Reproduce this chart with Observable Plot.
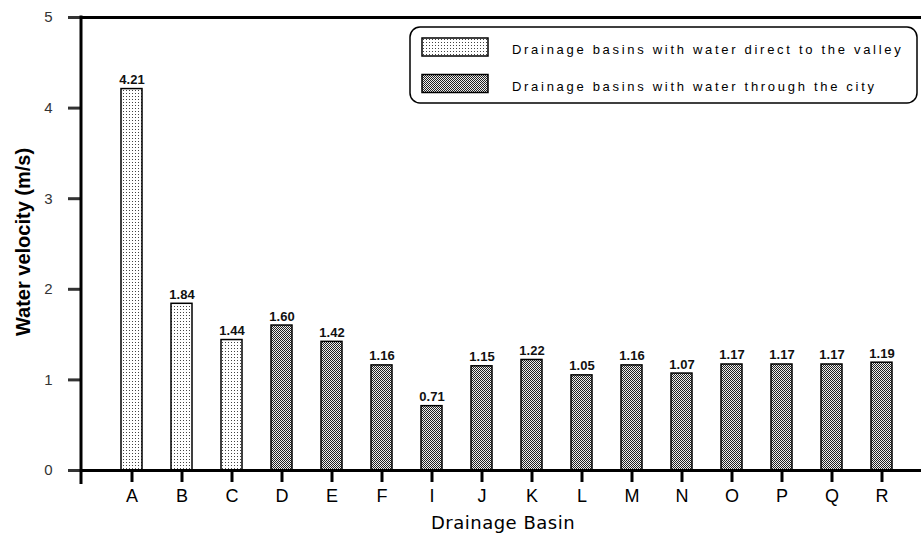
<!DOCTYPE html>
<html>
<head>
<meta charset="utf-8">
<script src="https://cdn.jsdelivr.net/npm/d3@7"></script>
<script src="https://cdn.jsdelivr.net/npm/@observablehq/plot@0.6"></script>
<style>
  html, body { margin: 0; padding: 0; background: #fff; }
  #chart { width: 921px; height: 533px; }
  svg { font-family: "Liberation Sans", Arial, sans-serif; }
</style>
</head>
<body>
<div id="chart"></div>
<script>
const categories = ["A","B","C","D","E","F","I","J","K","L","M","N","O","P","Q","R"];
const velocities = [4.21,1.84,1.44,1.60,1.42,1.16,0.71,1.15,1.22,1.05,1.16,1.07,1.17,1.17,1.17,1.19];
const groups = ["direct","direct","direct","city","city","city","city","city","city","city","city","city","city","city","city","city"];
const valueLabels = ["4.21","1.84","1.44","1.60","1.42","1.16","0.71","1.15","1.22","1.05","1.16","1.07","1.17","1.17","1.17","1.19"];
const yTicks = [0,1,2,3,4,5];
const legendLabels = ["Drainage basins with water direct to the valley", "Drainage basins with water through the city"];

const data = categories.map((c, i) => ({basin: c, v: velocities[i], group: groups[i], label: valueLabels[i]}));

const chart = Plot.plot({
  width: 921,
  height: 533,
  marginLeft: 81,
  marginRight: 0,
  marginTop: 17,
  marginBottom: 63,
  style: {fontFamily: "'Liberation Sans', Arial, sans-serif", background: "#fff", color: "#000"},
  x: {domain: categories, range: [81, 921], paddingInner: 0.58, paddingOuter: 0.668, align: 0.575},
  y: {domain: [0, 5]},
  marks: [
    Plot.barY(data, {filter: d => d.group === "direct", x: "basin", y: "v", fill: "url(#patLight)", stroke: "#000", strokeWidth: 1.5}),
    Plot.barY(data, {filter: d => d.group === "city", x: "basin", y: "v", fill: "url(#patDark)", stroke: "#000", strokeWidth: 1.5}),
    Plot.text(data, {x: "basin", y: "v", text: "label", lineAnchor: "bottom", dy: -5, fontSize: 13, fontWeight: "bold", fill: "#111", letterSpacing: "1.8px"}),
    Plot.ruleY([0, 5], {stroke: "#000", strokeWidth: 3}),
    Plot.axisY({ticks: yTicks, tickFormat: "d", tickSize: 13, tickPadding: 16, strokeWidth: 3, fontSize: 15, label: null, color: "#333"}),
    Plot.axisX({tickSize: 12, tickPadding: 7, strokeWidth: 3, fontSize: 18, label: null}),
  ]
});

document.getElementById("chart").appendChild(chart);

const svg = d3.select(chart);
const defs = svg.insert("defs", ":first-child");
const pl = defs.append("pattern").attr("id", "patLight").attr("patternUnits", "userSpaceOnUse").attr("width", 3).attr("height", 3);
pl.append("rect").attr("width", 3).attr("height", 3).attr("fill", "#fff");
pl.append("rect").attr("x", 0).attr("y", 0).attr("width", 1).attr("height", 1).attr("fill", "#444");
const pd = defs.append("pattern").attr("id", "patDark").attr("patternUnits", "userSpaceOnUse").attr("width", 2).attr("height", 2);
pd.append("rect").attr("width", 2).attr("height", 2).attr("fill", "#eee");
pd.append("rect").attr("x", 0).attr("y", 0).attr("width", 1).attr("height", 1).attr("fill", "#222");
pd.append("rect").attr("x", 1).attr("y", 1).attr("width", 1).attr("height", 1).attr("fill", "#222");

const yS = chart.scale("y");
const y0 = yS.apply(0), y5 = yS.apply(5);

// left axis line
svg.append("line").attr("x1", 81).attr("x2", 81).attr("y1", y5 - 1.5).attr("y2", y0 + 14)
  .attr("stroke", "#000").attr("stroke-width", 3);

// axis titles
svg.append("text").attr("transform", `translate(30,242) rotate(-90)`)
  .attr("text-anchor", "middle").attr("font-size", 20).attr("font-weight", "bold")
  .text("Water velocity (m/s)");
svg.append("text").attr("x", 503).attr("y", 529).attr("text-anchor", "middle")
  .attr("font-family", "'DejaVu Sans', sans-serif")
  .attr("font-size", 18).attr("letter-spacing", "0.5px").text("Drainage Basin");

// legend
const lg = svg.append("g");
lg.append("rect").attr("x", 410).attr("y", 27).attr("width", 507).attr("height", 76).attr("rx", 10)
  .attr("fill", "#fff").attr("stroke", "#000").attr("stroke-width", 1.5);
const fills = ["url(#patLight)", "url(#patDark)"];
legendLabels.forEach((t, i) => {
  const yy = 38 + i * 36.5;
  lg.append("rect").attr("x", 422).attr("y", yy).attr("width", 66).attr("height", 18)
    .attr("fill", fills[i]).attr("stroke", "#000").attr("stroke-width", 1.5);
  lg.append("text").attr("x", 512).attr("y", yy + 16).attr("font-size", 13)
    .attr("text-anchor", "start").attr("letter-spacing", "2.7px").text(t);
});
</script>
</body>
</html>
